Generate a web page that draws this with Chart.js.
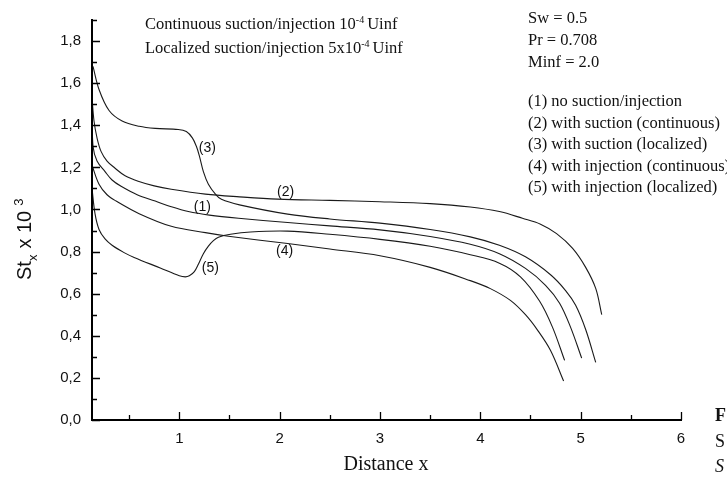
<!DOCTYPE html>
<html>
<head>
<meta charset="utf-8">
<script src="https://cdn.jsdelivr.net/npm/chart.js@4.4.1/dist/chart.umd.min.js"></script>
<style>
  body { margin: 0; background: #fff; }
  #stantonChart { display: block; }
</style>
</head>
<body>
<canvas id="stantonChart" width="727" height="477"></canvas>
<script>
// axis ticks
const xTicks = [1, 2, 3, 4, 5, 6];
const xMinorTicks = [0.5, 1.5, 2.5, 3.5, 4.5, 5.5];
const yTicks = [0, 0.2, 0.4, 0.6, 0.8, 1.0, 1.2, 1.4, 1.6, 1.8];
const yMinorTicks = [0.1, 0.3, 0.5, 0.7, 0.9, 1.1, 1.3, 1.5, 1.7, 1.9];

// (1) no suction/injection
const xNone = [0.13, 0.14, 0.18, 0.26, 0.33, 0.42, 0.58, 0.76, 0.92, 1.09, 1.3, 1.59, 2.08, 2.5, 3.0, 3.5, 3.9, 4.19, 4.45, 4.65, 4.79, 4.9, 5.01];
const stNone = [1.46, 1.30, 1.23, 1.18, 1.14, 1.11, 1.07, 1.04, 1.013, 0.99, 0.973, 0.958, 0.938, 0.922, 0.903, 0.872, 0.835, 0.79, 0.72, 0.64, 0.555, 0.44, 0.294];

// (2) suction, continuous
const xSucCont = [0.13, 0.15, 0.18, 0.22, 0.28, 0.36, 0.46, 0.59, 0.75, 0.92, 1.26, 1.6, 1.98, 2.5, 3.0, 3.5, 3.9, 4.19, 4.42, 4.6, 4.76, 4.92, 5.05, 5.15, 5.21];
const stSucCont = [1.53, 1.42, 1.34, 1.276, 1.23, 1.196, 1.16, 1.134, 1.112, 1.096, 1.073, 1.06, 1.049, 1.043, 1.037, 1.028, 1.012, 0.99, 0.958, 0.93, 0.885, 0.815, 0.725, 0.625, 0.5];

// (3) suction, localized
const xSucLoc = [0.14, 0.2, 0.3, 0.43, 0.6, 0.76, 0.99, 1.07, 1.13, 1.17, 1.2, 1.24, 1.29, 1.36, 1.42, 1.6, 2.08, 2.5, 3.0, 3.5, 3.9, 4.19, 4.45, 4.7, 4.85, 4.95, 5.05, 5.15];
const stSucLoc = [1.68, 1.57, 1.47, 1.42, 1.395, 1.385, 1.38, 1.37, 1.34, 1.30, 1.255, 1.18, 1.12, 1.073, 1.048, 1.022, 0.978, 0.955, 0.935, 0.905, 0.87, 0.83, 0.775, 0.69, 0.615, 0.545, 0.43, 0.274];

// (4) injection, continuous
const xInjCont = [0.13, 0.2, 0.28, 0.37, 0.6, 0.92, 1.26, 1.49, 2.08, 2.5, 3.0, 3.5, 3.9, 4.1, 4.3, 4.45, 4.57, 4.7, 4.83];
const stInjCont = [1.21, 1.12, 1.07, 1.04, 0.98, 0.92, 0.89, 0.873, 0.838, 0.812, 0.78, 0.725, 0.662, 0.624, 0.568, 0.5, 0.427, 0.33, 0.185];

// (5) injection, localized
const xInjLoc = [0.13, 0.16, 0.2, 0.26, 0.33, 0.45, 0.55, 0.81, 1.0, 1.06, 1.1, 1.15, 1.19, 1.24, 1.29, 1.34, 1.39, 1.51, 1.71, 2.08, 2.5, 3.0, 3.5, 3.9, 4.19, 4.4, 4.59, 4.72, 4.84];
const stInjLoc = [1.1, 0.98, 0.905, 0.86, 0.83, 0.795, 0.772, 0.722, 0.685, 0.68, 0.685, 0.705, 0.74, 0.79, 0.826, 0.852, 0.868, 0.882, 0.893, 0.897, 0.882, 0.858, 0.825, 0.785, 0.745, 0.68, 0.565, 0.44, 0.283];

// curve tags, placed in data units
const curveTags = ["(1)", "(2)", "(3)", "(4)", "(5)"];
const curveTagX = [1.23, 2.06, 1.28, 2.05, 1.31];
const curveTagY = [1.01, 1.08, 1.29, 0.80, 0.72];

const serif = "'Liberation Serif', 'Times New Roman', serif";
const sans = "'Liberation Sans', Arial, sans-serif";

function toPoints(xs, ys) {
  return xs.map((v, i) => ({ x: v, y: ys[i] }));
}

// draws a run of text pieces one after another (sub/superscripts)
function drawRun(ctx, parts, x, y) {
  let cx = x;
  parts.forEach((p) => {
    ctx.font = (p.style || "") + " " + p.size + "px " + p.family;
    ctx.fillText(p.t, cx, y + (p.dy || 0));
    cx += ctx.measureText(p.t).width + (p.gap || 0);
  });
}

const plateDecor = {
  id: "plateDecor",
  beforeDraw(chart) {
    const ctx = chart.ctx;
    ctx.save();
    ctx.fillStyle = "#fff";
    ctx.fillRect(0, 0, chart.width, chart.height);
    ctx.restore();
  },
  afterDraw(chart) {
    const { ctx, chartArea: a } = chart;
    const xs = chart.scales.x;
    const ys = chart.scales.y;
    ctx.save();

    // axis lines
    ctx.strokeStyle = "#000";
    ctx.lineWidth = 2;
    ctx.beginPath();
    ctx.moveTo(a.left, a.top - 1);
    ctx.lineTo(a.left, a.bottom);
    ctx.lineTo(a.right + 1, a.bottom);
    ctx.stroke();

    // inward ticks
    ctx.lineWidth = 1.3;
    ctx.beginPath();
    xTicks.forEach((v) => {
      const px = Math.round(xs.getPixelForValue(v)) + 0.5;
      ctx.moveTo(px, a.bottom);
      ctx.lineTo(px, a.bottom - 8);
    });
    xMinorTicks.forEach((v) => {
      const px = Math.round(xs.getPixelForValue(v)) + 0.5;
      ctx.moveTo(px, a.bottom);
      ctx.lineTo(px, a.bottom - 5);
    });
    yTicks.forEach((v) => {
      const py = Math.round(ys.getPixelForValue(v)) + 0.5;
      ctx.moveTo(a.left, py);
      ctx.lineTo(a.left + 8, py);
    });
    yMinorTicks.forEach((v) => {
      const py = Math.round(ys.getPixelForValue(v)) + 0.5;
      ctx.moveTo(a.left, py);
      ctx.lineTo(a.left + 5, py);
    });
    ctx.stroke();

    ctx.fillStyle = "#111";
    ctx.textBaseline = "alphabetic";
    ctx.textAlign = "left";

    // curve tags
    ctx.font = "14px " + sans;
    ctx.textAlign = "center";
    ctx.textBaseline = "middle";
    curveTags.forEach((t, i) => {
      ctx.fillText(t, xs.getPixelForValue(curveTagX[i]), ys.getPixelForValue(curveTagY[i]));
    });
    ctx.textAlign = "left";
    ctx.textBaseline = "alphabetic";

    // run conditions
    drawRun(ctx, [
      { t: "Continuous suction/injection 10", size: 16.5, family: serif },
      { t: "-4", size: 10, family: serif, dy: -6, gap: 3 },
      { t: "Uinf", size: 16.5, family: serif }
    ], 145, 29);
    drawRun(ctx, [
      { t: "Localized suction/injection 5x10", size: 16.5, family: serif },
      { t: "-4", size: 10, family: serif, dy: -6, gap: 3 },
      { t: "Uinf", size: 16.5, family: serif }
    ], 145, 53);

    ctx.font = "16.5px " + serif;
    const notes = ["Sw = 0.5", "Pr = 0.708", "Minf = 2.0"];
    notes.forEach((t, i) => ctx.fillText(t, 528, 23 + i * 22));
    const keys = [
      "(1) no suction/injection",
      "(2) with suction (continuous)",
      "(3) with suction (localized)",
      "(4) with injection (continuous)",
      "(5) with injection (localized)"
    ];
    keys.forEach((t, i) => ctx.fillText(t, 528, 106 + i * 21.5));

    // axis titles
    ctx.font = "20px " + serif;
    ctx.textAlign = "center";
    ctx.fillText("Distance x", 386, 470);
    ctx.textAlign = "left";

    ctx.save();
    ctx.translate(31, 280);
    ctx.rotate(-Math.PI / 2);
    drawRun(ctx, [
      { t: "St", size: 20, family: sans },
      { t: "x", size: 13, family: sans, dy: 6, gap: 6 },
      { t: "x 10", size: 20, family: sans, gap: 5 },
      { t: "3", size: 13, family: sans, dy: -8 }
    ], 0, 0);
    ctx.restore();

    // caption edge
    ctx.font = "bold 18px " + serif;
    ctx.fillText("F", 715, 421);
    ctx.font = "18px " + serif;
    ctx.fillText("S", 715, 447);
    ctx.font = "italic 18px " + serif;
    ctx.fillText("S", 715, 472);

    ctx.restore();
  }
};

document.addEventListener("DOMContentLoaded", function () {
  const ctx = document.getElementById("stantonChart").getContext("2d");
  const series = [
    [xNone, stNone],
    [xSucCont, stSucCont],
    [xSucLoc, stSucLoc],
    [xInjCont, stInjCont],
    [xInjLoc, stInjLoc]
  ];

  new Chart(ctx, {
    type: "scatter",
    data: {
      datasets: series.map((s, i) => ({
        label: curveTags[i],
        data: toPoints(s[0], s[1]),
        showLine: true,
        borderColor: "#1a1a1a",
        borderWidth: 1.1,
        pointRadius: 0,
        tension: 0.35,
        fill: false
      }))
    },
    options: {
      responsive: false,
      animation: false,
      devicePixelRatio: 1,
      layout: { padding: { top: 18, right: 46, left: 0, bottom: 0 } },
      plugins: { legend: { display: false }, tooltip: { enabled: false } },
      scales: {
        x: {
          type: "linear",
          min: 0.13,
          max: 6,
          afterBuildTicks: (scale) => { scale.ticks = xTicks.map((v) => ({ value: v })); },
          afterFit: (scale) => { scale.height = 57; },
          grid: { display: false, drawTicks: false },
          border: { display: false },
          ticks: {
            padding: 10,
            color: "#111",
            font: { family: sans, size: 15 },
            callback: (v) => String(v)
          }
        },
        y: {
          type: "linear",
          min: 0,
          max: 1.9,
          afterBuildTicks: (scale) => { scale.ticks = yTicks.map((v) => ({ value: v })); },
          afterFit: (scale) => { scale.width = 92; },
          grid: { display: false, drawTicks: false },
          border: { display: false },
          ticks: {
            padding: 11,
            color: "#111",
            font: { family: sans, size: 15 },
            callback: (v) => v.toFixed(1).replace(".", ",")
          }
        }
      }
    },
    plugins: [plateDecor]
  });
});
</script>
</body>
</html>
